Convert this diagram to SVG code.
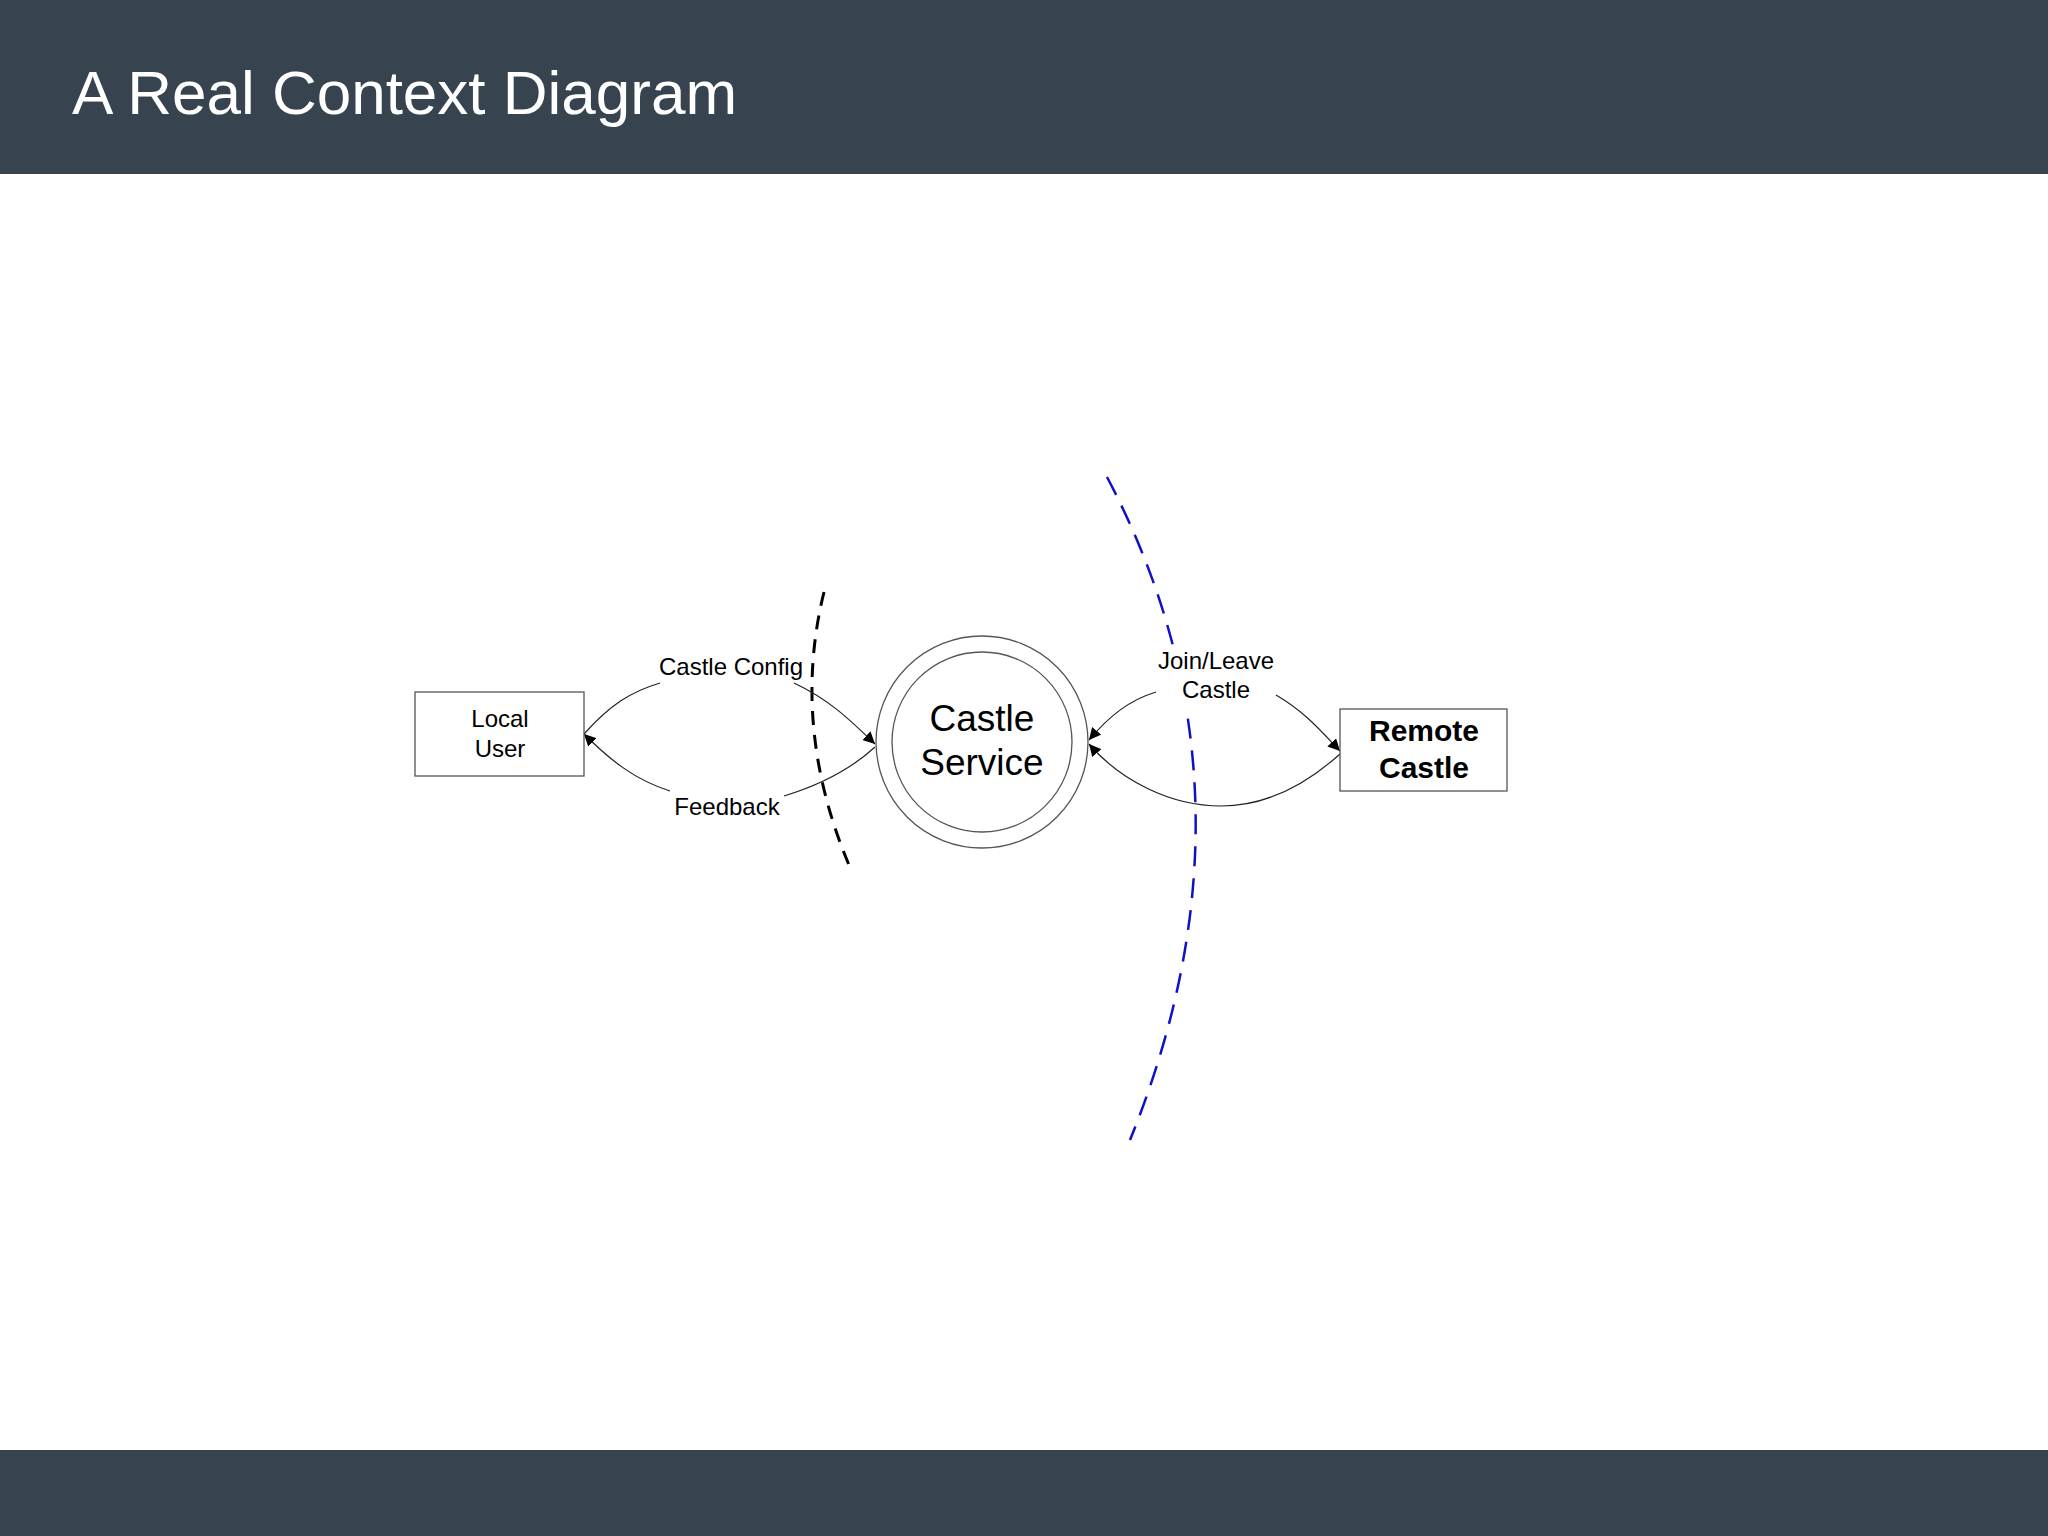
<svg xmlns="http://www.w3.org/2000/svg" width="2048" height="1536" viewBox="0 0 2048 1536">
<defs>
<style>
.bar{fill:#37434f}
.box{fill:#fff;stroke:#555;stroke-width:1.3}
.t{font-family:"Liberation Sans",Arial,sans-serif;fill:#000;text-anchor:middle}
.flow{fill:none;stroke:#222;stroke-width:1.2}
</style>
<marker id="ah" viewBox="0 0 10 10" refX="10" refY="5" markerWidth="12" markerHeight="12" markerUnits="userSpaceOnUse" orient="auto"><path d="M0,0L10,5L0,10z" fill="#000"/></marker>
</defs>
<rect width="2048" height="1536" fill="#fff"/>
<rect class="bar" x="0" y="0" width="2048" height="174"/>
<rect class="bar" x="0" y="1450" width="2048" height="86"/>
<text x="72" y="114" font-family="'Liberation Sans',Arial,sans-serif" font-size="62" fill="#fff">A Real Context Diagram</text>
<g id="boundaries">
<path d="M824,592 Q790,730 852,872" fill="none" stroke="#000" stroke-width="3" stroke-dasharray="14,10"/>
<path d="M1107,477 Q1272,790 1130,1140" fill="none" stroke="#1010c8" stroke-width="2.5" stroke-dasharray="20,12"/>
<rect x="1150" y="645" width="130" height="62" fill="#fff"/>
</g>
<g id="connectors">
<path class="flow" d="M584,734 C610,705 630,692 660,683"/>
<path class="flow" d="M794,683 C830,700 850,720 875,744" marker-end="url(#ah)"/>
<path class="flow" d="M875,747 C850,770 820,785 784,796"/>
<path class="flow" d="M670,791 C635,780 610,760 584,734" marker-end="url(#ah)"/>
<path class="flow" d="M1156,692 C1130,700 1110,715 1089,740" marker-end="url(#ah)"/>
<path class="flow" d="M1276,695 C1305,712 1320,730 1340,751" marker-end="url(#ah)"/>
<path class="flow" d="M1340,754 C1300,790 1260,806 1221,806 C1170,806 1120,780 1089,744" marker-end="url(#ah)"/>
<text class="t" x="731" y="675" font-size="24">Castle Config</text>
<text class="t" x="727" y="815" font-size="24">Feedback</text>
<text class="t" x="1216" y="669" font-size="24">Join/Leave</text>
<text class="t" x="1216" y="698" font-size="24">Castle</text>
</g>
<g id="local-user">
<rect class="box" x="415" y="692" width="169" height="84"/>
<text class="t" x="500" y="727" font-size="24">Local</text>
<text class="t" x="500" y="757" font-size="24">User</text>
</g>
<g id="castle-service">
<circle cx="982" cy="742" r="106" fill="#fff" stroke="#555" stroke-width="1.3"/>
<circle cx="982" cy="742" r="90" fill="#fff" stroke="#555" stroke-width="1.3"/>
<text class="t" x="982" y="731" font-size="37">Castle</text>
<text class="t" x="982" y="775" font-size="37">Service</text>
</g>
<g id="remote-castle">
<rect class="box" x="1340" y="709" width="167" height="82"/>
<text class="t" x="1424" y="741" font-size="30" font-weight="bold">Remote</text>
<text class="t" x="1424" y="778" font-size="30" font-weight="bold">Castle</text>
</g>
</svg>
